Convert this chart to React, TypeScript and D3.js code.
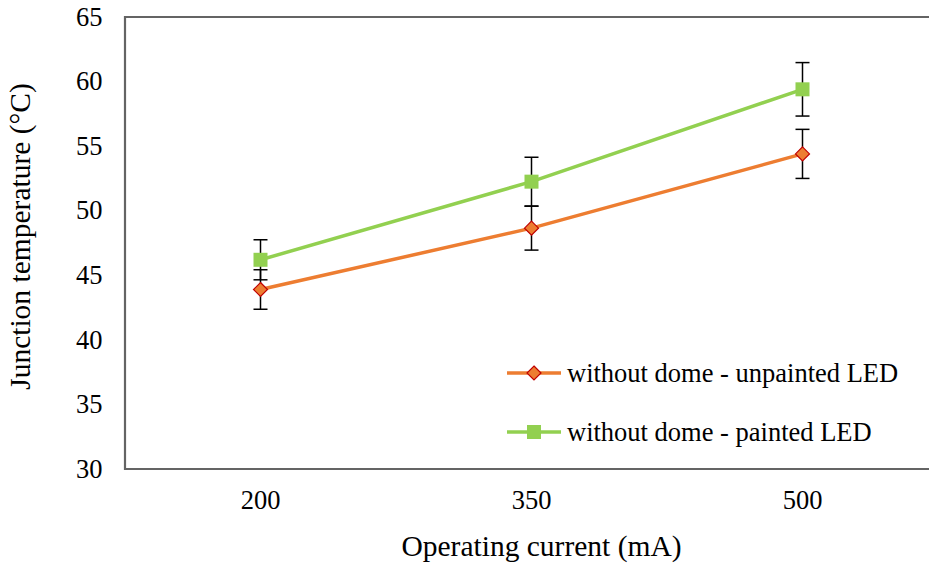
import React from "react";
import * as d3 from "d3";

const currents = ["200", "350", "500"];
const unpainted = [43.9, 48.65, 54.4];
const unpaintedErr = [1.53, 1.7, 1.9];
const painted = [46.2, 52.25, 59.4];
const paintedErr = [1.55, 1.89, 2.07];
const yTicks = [30, 35, 40, 45, 50, 55, 60, 65];
const seriesNames = ["without dome - unpainted LED", "without dome - painted LED"];

const W = 929;
const H = 567;
const M = { left: 125, top: 17, right: 938, bottom: 469 };
const FONT = "'Liberation Serif', 'Times New Roman', serif";
const ORANGE = "#ED7D31";
const GREEN = "#92D050";
const AXIS = "#646464";

export default function App() {
  const x = d3.scaleBand<string>().domain(currents).range([M.left, M.right]);
  const y = d3.scaleLinear().domain([30, 65]).range([M.bottom, M.top]);
  const cx = (c: string) => (x(c) as number) + x.bandwidth() / 2;
  const line = d3
    .line<number>()
    .x((_, i) => cx(currents[i]))
    .y((v) => y(v));

  const errorBars = (vals: number[], errs: number[], key: string) =>
    vals.map((v, i) => {
      const px = cx(currents[i]);
      const y1 = y(v + errs[i]);
      const y2 = y(v - errs[i]);
      return (
        <g key={key + i} stroke="#000" strokeWidth={1.5}>
          <line x1={px} x2={px} y1={y1} y2={y2} />
          <line x1={px - 7} x2={px + 7} y1={y1} y2={y1} />
          <line x1={px - 7} x2={px + 7} y1={y2} y2={y2} />
        </g>
      );
    });

  const diamond = (px: number, py: number, key: string) => (
    <path
      key={key}
      d={`M${px},${py - 7}L${px + 7},${py}L${px},${py + 7}L${px - 7},${py}Z`}
      fill={ORANGE}
      stroke="#C00000"
      strokeWidth={1.2}
    />
  );
  const square = (px: number, py: number, key: string) => (
    <rect key={key} x={px - 7} y={py - 7} width={14} height={14} fill={GREEN} />
  );

  const tickStyle = { fontFamily: FONT, fontSize: 26.5 };
  const titleStyle = { fontFamily: FONT, fontSize: 29.5 };

  return (
    <svg
      width={W}
      height={H}
      style={{ position: "absolute", left: 0, top: 0, background: "#fff" }}
    >
      {/* frame */}
      <path
        d={`M${W + 5},${M.top}H${M.left}V${M.bottom}H${W + 5}`}
        fill="none"
        stroke={AXIS}
        strokeWidth={2.2}
      />
      {/* y ticks */}
      {yTicks.map((t) => (
        <text key={t} x={102.5} y={y(t)} dy="0.33em" textAnchor="end" style={tickStyle} fill="#000">
          {t}
        </text>
      ))}
      {/* x ticks */}
      {currents.map((c) => (
        <text key={c} x={cx(c)} y={509} textAnchor="middle" style={tickStyle} fill="#000">
          {c}
        </text>
      ))}
      <text x={541.5} y={556} textAnchor="middle" style={titleStyle} fill="#000">
        Operating current (mA)
      </text>
      <text
        transform={`translate(30,236.5) rotate(-90)`}
        textAnchor="middle"
        style={titleStyle}
        fill="#000"
      >
        Junction temperature (°C)
      </text>

      {errorBars(painted, paintedErr, "pe")}
      {errorBars(unpainted, unpaintedErr, "ue")}

      <path d={line(unpainted) || ""} fill="none" stroke={ORANGE} strokeWidth={3.5} />
      <path d={line(painted) || ""} fill="none" stroke={GREEN} strokeWidth={3.5} />
      {unpainted.map((v, i) => diamond(cx(currents[i]), y(v), "d" + i))}
      {painted.map((v, i) => square(cx(currents[i]), y(v), "s" + i))}

      {/* legend */}
      <g>
        <line x1={507} x2={561} y1={373} y2={373} stroke={ORANGE} strokeWidth={3.5} />
        {diamond(534, 373, "ld")}
        <text x={567} y={373} dy="0.33em" style={tickStyle} fill="#000">
          {seriesNames[0]}
        </text>
        <line x1={507} x2={561} y1={432} y2={432} stroke={GREEN} strokeWidth={3.5} />
        {square(534, 432, "ls")}
        <text x={567} y={432} dy="0.33em" style={tickStyle} fill="#000">
          {seriesNames[1]}
        </text>
      </g>
    </svg>
  );
}
